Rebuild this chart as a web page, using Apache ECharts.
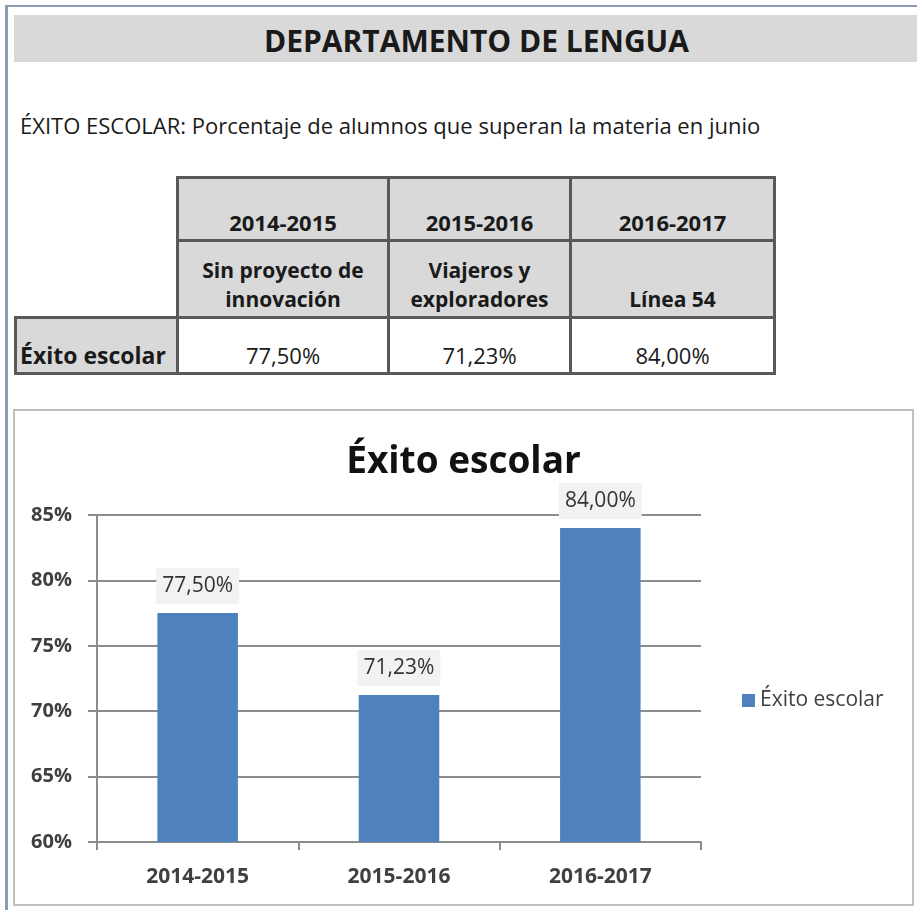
<!DOCTYPE html>
<html>
<head>
<meta charset="utf-8">
<script src="https://cdn.jsdelivr.net/npm/echarts@6/dist/echarts.min.js"></script>
<style>
    html, body { margin: 0; padding: 0; background: #fff; }
    body { width: 917px; height: 910px; position: relative; overflow: hidden; font-family: "Open Sans", sans-serif; color: #1a1a1a; }
    #frame { position: absolute; left: 5px; top: 5px; right: 0; bottom: 0; border-left: 3px solid #8a9bb4; border-top: 2px solid #8a9bb4; }
    #band { position: absolute; left: 14px; top: 15px; right: 0; height: 47px; background: #d9d9d9;
            font-weight: bold; font-size: 30px; line-height: 51px; text-align: center; padding-left: 22px; }
    #sub { position: absolute; left: 20px; top: 110px; font-size: 22px; line-height: 30px; white-space: nowrap; }
    #tabla { position: absolute; left: 14px; top: 176px; border-collapse: collapse; table-layout: fixed; font-size: 22px; }
    #tabla td { border: 3px solid #595959; text-align: center; vertical-align: bottom; padding: 0 4px 2px 4px; white-space: pre-line; line-height: 29px; }
    #tabla td.gris { background: #d9d9d9; font-weight: bold; }
    #tabla td.proy { font-size: 21px; }
    #tabla td.vacio { border: none; background: transparent; }
    #tabla td.etq { text-align: left; padding-left: 3px; font-size: 23px; }
    #caja { position: absolute; left: 13px; top: 409px; width: 901px; height: 497px; box-sizing: border-box; border: 2px solid #c0c0c0; }
    #mychart { width: 100%; height: 100%; }
</style>
</head>
<body>
<div id="frame"></div>
<div id="band">DEPARTAMENTO DE LENGUA</div>
<div id="sub">ÉXITO ESCOLAR: Porcentaje de alumnos que superan la materia en junio</div>
<table id="tabla"></table>
<div id="caja"><div id="mychart"></div></div>
<script>
    var categorias = ['2014-2015', '2015-2016', '2016-2017']
    var proyectos = ['Sin proyecto de\ninnovación', 'Viajeros y\nexploradores', 'Línea 54']
    var exito = [77.50, 71.23, 84.00]
    var serieNombre = 'Éxito escolar'
    var tituloGrafico = 'Éxito escolar'
    var ejeY = { min: 60, max: 85, interval: 5 }

    function pct(v) {
        return v.toFixed(2).replace('.', ',') + '%'
    }

    // tabla de arriba
    var anchos = [162, 211, 182, 204]
    var altos = [63, 77, 56]
    var tabla = document.getElementById('tabla')
    var cg = '<colgroup>'
    anchos.forEach(function (w) { cg += '<col style="width:' + w + 'px">' })
    cg += '</colgroup>'
    var f1 = '<tr style="height:' + altos[0] + 'px"><td class="vacio"></td>'
    var f2 = '<tr style="height:' + altos[1] + 'px"><td class="vacio"></td>'
    var f3 = '<tr style="height:' + altos[2] + 'px"><td class="gris etq">' + serieNombre + '</td>'
    for (var i = 0; i < categorias.length; i++) {
        f1 += '<td class="gris">' + categorias[i] + '</td>'
        f2 += '<td class="gris proy">' + proyectos[i] + '</td>'
        f3 += '<td>' + pct(exito[i]) + '</td>'
    }
    tabla.innerHTML = cg + f1 + '</tr>' + f2 + '</tr>' + f3 + '</tr>'

    // grafico
    var gris = '#8c8c8c'
    var texto = '#404040'
    var myChart = echarts.init(document.getElementById('mychart'))
    var option = {
        animation: false,
        backgroundColor: '#fff',
        title: {
            text: tituloGrafico,
            left: 'center',
            top: 24,
            textStyle: {
                fontFamily: 'Open Sans',
                fontSize: 37,
                fontWeight: 'bold',
                lineHeight: 44,
                color: '#111'
            }
        },
        legend: {
            data: [serieNombre],
            orient: 'vertical',
            left: 722,
            top: 274,
            icon: 'rect',
            itemWidth: 13,
            itemHeight: 13,
            itemGap: 5,
            textStyle: {
                fontFamily: 'Open Sans',
                fontSize: 21,
                color: texto
            }
        },
        grid: {
            left: 82,
            right: 211,
            top: 104,
            bottom: 62
        },
        xAxis: {
            type: 'category',
            data: categorias,
            axisLine: { lineStyle: { color: gris, width: 2 } },
            axisTick: { show: true, length: 8, alignWithLabel: false, lineStyle: { color: gris, width: 2 } },
            axisLabel: {
                margin: 25,
                fontFamily: 'Open Sans',
                fontSize: 21,
                fontWeight: 'bold',
                color: texto
            }
        },
        yAxis: {
            type: 'value',
            min: ejeY.min,
            max: ejeY.max,
            interval: ejeY.interval,
            axisLine: { show: true, lineStyle: { color: gris, width: 2 } },
            axisTick: { show: true, length: 9, lineStyle: { color: gris, width: 2 } },
            splitLine: { lineStyle: { color: gris, width: 2 } },
            axisLabel: {
                margin: 25,
                formatter: '{value}%',
                fontFamily: 'Open Sans',
                fontSize: 20,
                fontWeight: 'bold',
                color: texto
            }
        },
        series: [{
            name: serieNombre,
            type: 'bar',
            data: exito,
            barWidth: '40%',
            itemStyle: { color: '#4f81bd' },
            label: {
                show: true,
                position: 'top',
                distance: 9,
                formatter: function (p) { return pct(p.value) },
                fontFamily: 'Open Sans',
                fontSize: 21,
                lineHeight: 22,
                color: '#333',
                backgroundColor: '#f2f2f2',
                padding: [7, 6, 7, 6]
            }
        }]
    }
    myChart.setOption(option)
</script>
</body>
</html>
